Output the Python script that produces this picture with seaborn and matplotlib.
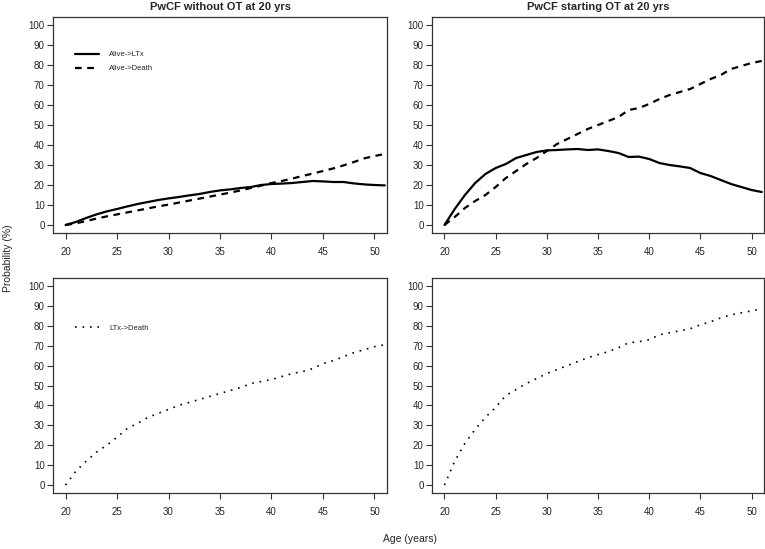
import pandas as pd
import matplotlib
matplotlib.use("Agg")
import matplotlib.pyplot as plt
import seaborn as sns

sns.set_style("white")
plt.rcParams['font.family'] = ['Liberation Sans', 'DejaVu Sans']

# Age grid (years)
age = [20, 21, 22, 23, 24, 25, 26, 27, 28, 29, 30, 31, 32, 33, 34, 35,
       36, 37, 38, 39, 40, 41, 42, 43, 44, 45, 46, 47, 48, 49, 50, 51]

# PwCF without OT at 20 yrs
no_ot_ltx = [0, 1.5, 3.5, 5.3, 6.8, 8, 9.3, 10.5, 11.5, 12.5, 13.3, 14, 14.8, 15.5, 16.5, 17.3,
             17.8, 18.5, 19, 20, 20.5, 20.7, 21, 21.5, 22, 21.8, 21.5, 21.5, 20.8, 20.3, 20, 19.8]
no_ot_death = [0, 0.8, 2, 3.2, 4.3, 5.3, 6.3, 7.3, 8.3, 9.3, 10.2, 11.2, 12.2, 13.2, 14.2, 15.2,
               16.2, 17.3, 18.5, 19.7, 21, 22, 23.2, 24.5, 25.7, 27, 28.3, 29.8, 31.5, 33.3, 34.5, 35.5]
no_ot_ltx_death = [0, 7, 12, 16.5, 20, 24, 28.5, 31, 34, 36, 38, 40, 41.5, 43, 44.5, 46,
                   47.5, 49, 51, 52, 53, 54.5, 56, 57, 58.5, 61, 62.5, 64.5, 66.5, 68, 69.5, 70.5]

# PwCF starting OT at 20 yrs
ot_ltx = [0, 8, 15, 21, 25.5, 28.5, 30.5, 33.5, 35, 36.5, 37.3, 37.5, 37.8, 38, 37.5, 37.8,
          37, 36, 34, 34.2, 33, 31, 30, 29.3, 28.5, 26, 24.5, 22.5, 20.5, 19, 17.5, 16.5]
ot_death = [0, 4, 8.5, 12, 15, 19, 23.5, 27, 30.5, 33.5, 37, 40.5, 43, 45.5, 48, 50,
            52, 54, 57.5, 58.5, 60.5, 63, 65, 66.5, 68, 70.5, 73, 75, 78, 79.5, 81, 82]
ot_ltx_death = [0, 12, 21, 28, 34, 39, 45, 48, 51, 53.5, 56, 58, 60, 62, 64, 65.5,
                67, 69, 71.5, 72, 73, 75.5, 76.5, 77.5, 78.5, 80.5, 82, 84, 85.5, 86.5, 87.5, 88.5]

titles = ["PwCF without OT at 20 yrs", "PwCF starting OT at 20 yrs"]

fig = plt.figure(figsize=(7.65, 5.49), dpi=100)
ax_tl = fig.add_axes([0.0693, 0.5756, 0.4366, 0.3934])
ax_tr = fig.add_axes([0.5647, 0.5756, 0.4340, 0.3934])
ax_bl = fig.add_axes([0.0693, 0.1020, 0.4366, 0.3916])
ax_br = fig.add_axes([0.5647, 0.1020, 0.4340, 0.3916])

# top row: from Alive state
for ax, ltx, death in [(ax_tl, no_ot_ltx, no_ot_death), (ax_tr, ot_ltx, ot_death)]:
    sns.lineplot(x=age, y=ltx, ax=ax, color="black", linewidth=1.6, label="Alive->LTx")
    sns.lineplot(x=age, y=death, ax=ax, color="black", linewidth=1.6,
                 linestyle=(0, (3, 2.5)), label="Alive->Death")

# bottom row: from LTx state
for ax, vals in [(ax_bl, no_ot_ltx_death), (ax_br, ot_ltx_death)]:
    sns.lineplot(x=age, y=vals, ax=ax, color="black", linewidth=1.2,
                 linestyle=(0, (1, 3.5)), label="LTx->Death")

for ax in [ax_tl, ax_tr, ax_bl, ax_br]:
    ax.set_xlim(18.78, 51.22)
    ax.set_ylim(-4, 104)
    ax.set_xticks(range(20, 51, 5))
    ax.set_yticks(range(0, 101, 10))
    ax.tick_params(axis="both", direction="out", length=4, width=0.8, color="#333333",
                   labelsize=7, pad=2, left=True, bottom=True)
    ax.tick_params(axis="x", pad=6)
    for sp in ax.spines.values():
        sp.set_color("#333333")
        sp.set_linewidth(0.9)
    ax.set_xlabel("")
    ax.set_ylabel("")

ax_tl.legend(loc="upper left", bbox_to_anchor=(0.045, 0.875), frameon=False,
             fontsize=5.5, handlelength=3.1, handletextpad=1.4, labelspacing=0.9)
ax_bl.legend(loc="upper left", bbox_to_anchor=(0.045, 0.815), frameon=False,
             fontsize=5.5, handlelength=3.1, handletextpad=1.4)
ax_tr.get_legend().remove()
ax_br.get_legend().remove()

ax_tl.set_title(titles[0], fontsize=8, fontweight="bold", pad=5)
ax_tr.set_title(titles[1], fontsize=8, fontweight="bold", pad=5)

fig.text(0.011, 0.53, "Probability (%)", rotation=90, ha="center", va="center", fontsize=7.5)
fig.text(0.536, 0.018, "Age (years)", ha="center", va="center", fontsize=7.5)

fig.savefig("out.png", dpi=100, facecolor="white")
